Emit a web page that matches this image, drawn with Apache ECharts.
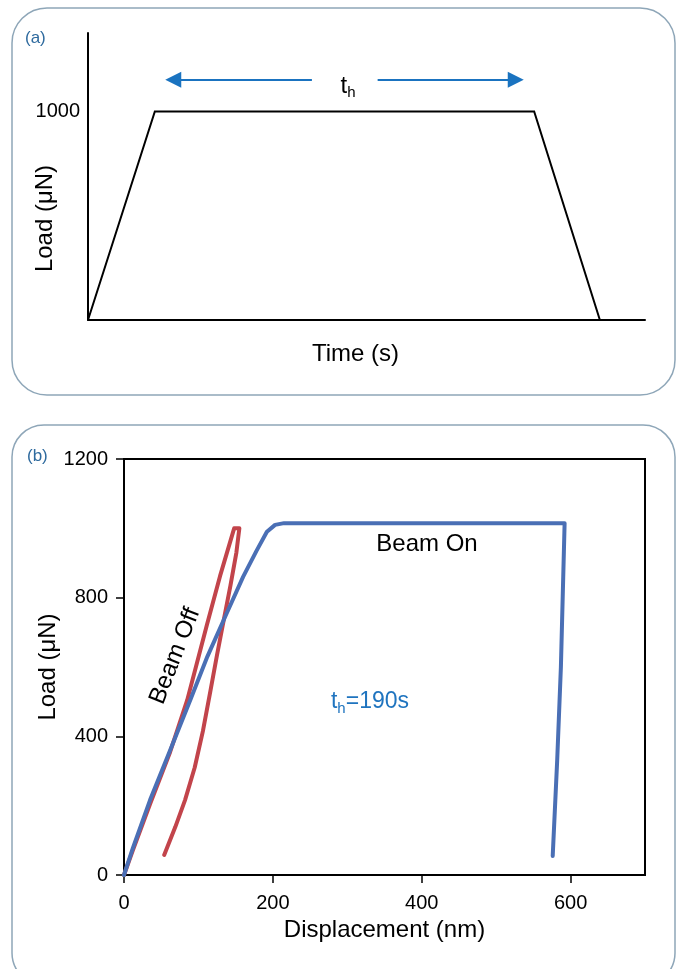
<!DOCTYPE html>
<html><head><meta charset="utf-8">
<script src="https://cdn.jsdelivr.net/npm/echarts@6/dist/echarts.min.js"></script>
<style>html,body{margin:0;padding:0;background:#fff}#c{width:682px;height:969px}</style>
</head><body><div id="c"></div>
<script>
// ---------- Panel (a): load profile ----------
const profileTime = [0, 12, 80.1, 91.9];
const profileLoad = [0, 1000, 1000, 0];
const holdArrowY = 1152;
const holdArrowLeft = [40.2, 15.3];   // from -> to (arrow head centre)
const holdArrowRight = [52.0, 76.8];  // from -> to (arrow head centre)
const aYLabels = [1000];

// ---------- Panel (b): load vs displacement ----------
const beamOffDisp = [0, 12, 35, 62, 85, 111, 129, 148, 155, 151, 143, 134, 125, 116, 106, 95, 82, 69, 54];
const beamOffLoad = [0, 72, 205, 355, 505, 718, 862, 1000, 1000, 930, 835, 735, 635, 530, 415, 310, 216, 139, 58];
const beamOnDisp = [0, 12, 35, 62, 90, 112, 138, 160, 178, 192, 203, 215, 300, 450, 592, 587, 582, 576];
const beamOnLoad = [0, 78, 216, 360, 510, 630, 755, 860, 935, 990, 1010, 1015, 1015, 1015, 1015, 600, 330, 55];
const bXTicks = [0, 200, 400, 600];
const bYTicks = [0, 400, 800, 1200];

const FF = '"Liberation Sans", Arial, Helvetica, sans-serif';
const zip = (xs, ys) => xs.map((x, i) => [x, ys[i]]);
const ARROW = '#1a73c0';

const chart = echarts.init(document.getElementById('c'), null, {renderer: 'canvas'});
const option = {
  animation: false,
  backgroundColor: '#fff',
  textStyle: {fontFamily: FF},
  grid: [
    {left: 88, right: 37, top: 33, bottom: 649, containLabel: false, outerBoundsMode: 'none'},
    {left: 124, right: 37, top: 459, bottom: 94, containLabel: false, outerBoundsMode: 'none',
     show: true, borderColor: '#000', borderWidth: 2}
  ],
  xAxis: [
    {
      type: 'value', gridIndex: 0, min: 0, max: 100,
      axisLine: {show: true, lineStyle: {color: '#000', width: 2}},
      axisTick: {show: false}, axisLabel: {show: false}, splitLine: {show: false},
      name: 'Time (s)', nameLocation: 'middle', nameGap: 22, nameMoveOverlap: false,
      nameTextStyle: {fontSize: 24, color: '#000', fontFamily: FF, padding: [0, 22, 0, 0]}
    },
    {
      type: 'value', gridIndex: 1, min: 0, max: 700, interval: 200,
      axisLine: {show: true, onZero: false, lineStyle: {color: '#000', width: 2}},
      axisTick: {show: true, length: 8, inside: false, customValues: bXTicks, lineStyle: {color: '#000', width: 1.5}},
      axisLabel: {show: true, fontSize: 20, color: '#000', fontFamily: FF, margin: 18, customValues: bXTicks,
                  formatter: v => String(v)},
      splitLine: {show: false},
      name: 'Displacement (nm)', nameLocation: 'middle', nameGap: 43, nameMoveOverlap: false,
      nameTextStyle: {fontSize: 24, color: '#000', fontFamily: FF}
    }
  ],
  yAxis: [
    {
      type: 'value', gridIndex: 0, min: 0, max: 1376, interval: 1000,
      axisLine: {show: true, lineStyle: {color: '#000', width: 2}},
      axisTick: {show: false}, splitLine: {show: false},
      axisLabel: {show: true, fontSize: 20, color: '#000', fontFamily: FF, margin: 8, customValues: aYLabels,
                  formatter: v => (aYLabels.indexOf(v) >= 0 ? String(v) : '')},
      name: 'Load (μN)', nameLocation: 'middle', nameGap: 31, nameRotate: 90, nameMoveOverlap: false,
      nameTextStyle: {fontSize: 24, color: '#000', fontFamily: FF, padding: [0, 84, 0, 0]}
    },
    {
      type: 'value', gridIndex: 1, min: 0, max: 1200, interval: 400,
      axisLine: {show: true, onZero: false, lineStyle: {color: '#000', width: 2}},
      axisTick: {show: true, length: 8, inside: false, customValues: bYTicks, lineStyle: {color: '#000', width: 1.5}},
      axisLabel: {show: true, fontSize: 20, color: '#000', fontFamily: FF, margin: 16, customValues: bYTicks,
                  formatter: v => String(v)},
      splitLine: {show: false},
      name: 'Load (μN)', nameLocation: 'middle', nameGap: 64, nameRotate: 90, nameMoveOverlap: false,
      nameTextStyle: {fontSize: 24, color: '#000', fontFamily: FF}
    }
  ],
  series: [
    {
      type: 'line', xAxisIndex: 0, yAxisIndex: 0, data: zip(profileTime, profileLoad),
      symbol: 'none', silent: true,
      lineStyle: {color: '#000', width: 2, join: 'miter'},
      markLine: {
        silent: true, symbol: ['none', 'triangle'], symbolSize: 16,
        label: {show: false},
        lineStyle: {color: ARROW, width: 2.2, type: 'solid'},
        emphasis: {disabled: true},
        data: [
          [{coord: [holdArrowLeft[0], holdArrowY]}, {coord: [holdArrowLeft[1], holdArrowY]}],
          [{coord: [holdArrowRight[0], holdArrowY]}, {coord: [holdArrowRight[1], holdArrowY]}]
        ]
      }
    },
    {
      name: 'Beam Off', type: 'line', xAxisIndex: 1, yAxisIndex: 1, data: zip(beamOffDisp, beamOffLoad),
      symbol: 'none', silent: true,
      lineStyle: {color: '#c2444b', width: 4, join: 'round', cap: 'round'}
    },
    {
      name: 'Beam On', type: 'line', xAxisIndex: 1, yAxisIndex: 1, data: zip(beamOnDisp, beamOnLoad),
      symbol: 'none', silent: true,
      lineStyle: {color: '#4a6fb5', width: 4, join: 'round', cap: 'round'}
    }
  ],
  graphic: [
    {type: 'rect', z: -10, silent: true, shape: {x: 12, y: 8, width: 663, height: 387, r: 35},
     style: {fill: 'none', stroke: '#8ea6b8', lineWidth: 1.5}},
    {type: 'rect', z: -10, silent: true, shape: {x: 12, y: 425, width: 663, height: 560, r: 32},
     style: {fill: 'none', stroke: '#8ea6b8', lineWidth: 1.5}},
    {type: 'text', silent: true, x: 25, y: 38,
     style: {text: '(a)', fontSize: 17, fill: '#2e6a9e', fontFamily: FF, verticalAlign: 'middle', align: 'left'}},
    {type: 'text', silent: true, x: 27, y: 456,
     style: {text: '(b)', fontSize: 17, fill: '#2e6a9e', fontFamily: FF, verticalAlign: 'middle', align: 'left'}},
    {type: 'text', silent: true, x: 348, y: 86,
     style: {text: '{t|t}{s|h}', align: 'center', verticalAlign: 'middle',
             rich: {t: {fontSize: 24, fill: '#000', fontFamily: FF},
                    s: {fontSize: 15, fill: '#000', fontFamily: FF, padding: [14, 0, 0, 0]}}}},
    {type: 'text', silent: true, x: 427, y: 544,
     style: {text: 'Beam On', fontSize: 24, fill: '#000', fontFamily: FF, align: 'center', verticalAlign: 'middle'}},
    {type: 'text', silent: true, x: 175, y: 656, rotation: 1.196,
     style: {text: 'Beam Off', fontSize: 24, fill: '#000', fontFamily: FF, align: 'center', verticalAlign: 'middle'}},
    {type: 'text', silent: true, x: 370, y: 702,
     style: {text: '{t|t}{s|h}{t|=190s}', align: 'center', verticalAlign: 'middle',
             rich: {t: {fontSize: 23, fill: '#1f74bf', fontFamily: FF},
                    s: {fontSize: 15, fill: '#1f74bf', fontFamily: FF, padding: [14, 0, 0, 0]}}}}
  ]
};
chart.setOption(option);
</script></body></html>
